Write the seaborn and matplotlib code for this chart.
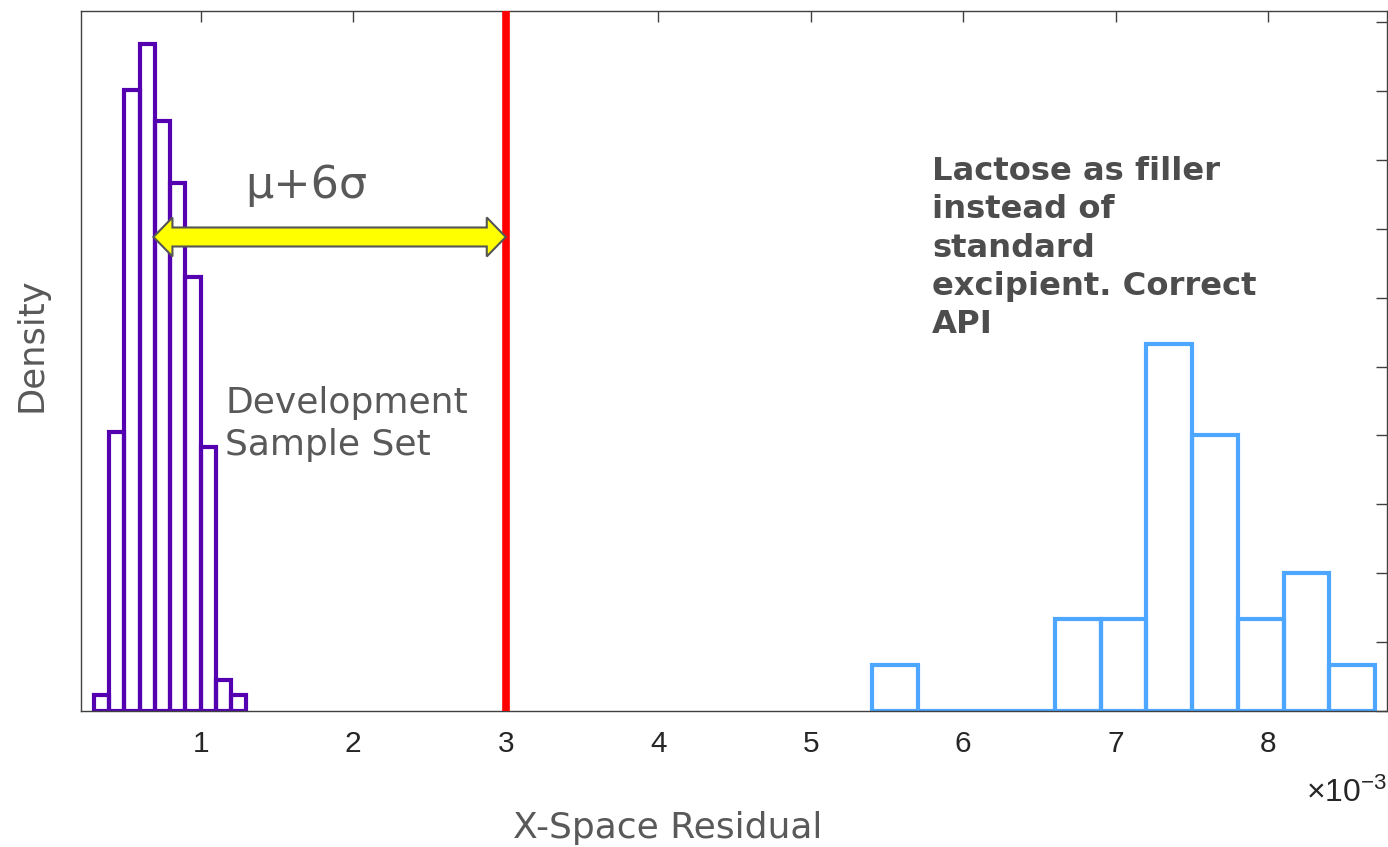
import numpy as np
import pandas as pd
import seaborn as sns
import matplotlib
matplotlib.use("Agg")
import matplotlib.pyplot as plt
from matplotlib.ticker import MultipleLocator, FuncFormatter
from matplotlib.patches import Polygon
from matplotlib.transforms import IdentityTransform

# ---------------- data ----------------
dev_edges = [0.0003, 0.0004, 0.0005, 0.0006, 0.0007, 0.0008, 0.0009, 0.0010, 0.0011, 0.0012, 0.0013]
dev_counts = [1, 18, 40, 43, 38, 34, 28, 17, 2, 1]

lac_edges = [0.0054, 0.0057, 0.0060, 0.0063, 0.0066, 0.0069, 0.0072, 0.0075, 0.0078, 0.0081, 0.0084, 0.0087]
lac_counts = [1, 0, 0, 0, 2, 2, 8, 6, 2, 3, 1]

mu_value = 0.00069          # mean of development set (arrow start)
limit_value = 0.0030        # mu + 6 sigma threshold
x_ticks = [0.001, 0.002, 0.003, 0.004, 0.005, 0.006, 0.007, 0.008]

# ---------------- style ----------------
sns.set_style("white")
plt.rcParams["font.family"] = ["DejaVu Sans"]
plt.rcParams["mathtext.fontset"] = "custom"
plt.rcParams["mathtext.rm"] = "Liberation Sans"

W, H = 1388, 847
fig = plt.figure(figsize=(W / 100, H / 100), dpi=100)
ax = fig.add_axes([81 / W, (H - 711) / H, (1387 - 81) / W, 700 / H])

def centers(edges):
    e = np.asarray(edges)
    return (e[:-1] + e[1:]) / 2

dev_df = pd.DataFrame({"residual": centers(dev_edges), "count": dev_counts})
lac_df = pd.DataFrame({"residual": centers(lac_edges), "count": lac_counts})

sns.histplot(data=dev_df, x="residual", weights="count", bins=dev_edges, stat="density",
             element="bars", fill=False, color="#5500B0", linewidth=3, ax=ax)
sns.histplot(data=lac_df, x="residual", weights="count", bins=lac_edges, stat="density",
             element="bars", fill=False, color="#4DA6FF", linewidth=3, ax=ax)

ax.axvline(limit_value, color="#FF0000", linewidth=5.5, zorder=4)

ax.set_xlim(0.000215, 0.008778)
ax.set_ylim(0, 2032)

ax.xaxis.set_major_locator(plt.FixedLocator(x_ticks))
ax.xaxis.set_major_formatter(FuncFormatter(lambda v, p: f"{v * 1e3:g}"))
ax.yaxis.set_major_locator(MultipleLocator(200))
ax.tick_params(axis="both", direction="in", length=8, width=1, colors="#404040",
               top=True, right=True, labelcolor="#262626", labelsize=21.5, pad=14)
ax.tick_params(axis="y", labelleft=False)
for lab in ax.get_xticklabels():
    lab.set_fontfamily("Liberation Sans")
for s in ax.spines.values():
    s.set_color("#404040")
    s.set_linewidth(1)
    s.set_visible(True)

ax.set_xlabel("X-Space Residual", fontsize=26, color="#595959")
ax.xaxis.label.set_va("baseline")
ax.xaxis.set_label_coords(0.4495, -0.1814)
ax.set_ylabel("Density", fontsize=25.5, color="#595959")
ax.yaxis.label.set_va("baseline")
ax.yaxis.set_label_coords(-0.0299, 0.523)

ax.text(1.0, -0.13, r"$\mathregular{\times10^{-3}}$", transform=ax.transAxes,
        ha="right", va="baseline", fontsize=23, color="#262626", fontfamily="Liberation Sans")

# annotations (va='baseline' anchors the last line's baseline)
ax.text(0.001290, 1489, "μ+6σ", fontsize=32, color="#595959", ha="left", va="baseline")
ax.text(0.001160, 743, "Development\nSample Set", fontsize=26, color="#595959",
        ha="left", va="baseline", linespacing=1.3)
ax.text(0.005795, 1097, "Lactose as filler\ninstead of\nstandard\nexcipient. Correct\nAPI",
        fontsize=23.2, fontweight="bold", color="#4D4D4D", ha="left", va="baseline",
        linespacing=1.3)

# double-headed arrow mu -> limit
arrow_y = 1376
x0, y0 = ax.transData.transform((mu_value, arrow_y))
x1, _ = ax.transData.transform((limit_value, arrow_y))
hl, hh, hs = 19, 19.5, 9.5
verts = [(x0, y0), (x0 + hl, y0 + hh), (x0 + hl, y0 + hs), (x1 - hl, y0 + hs), (x1 - hl, y0 + hh),
         (x1, y0), (x1 - hl, y0 - hh), (x1 - hl, y0 - hs), (x0 + hl, y0 - hs), (x0 + hl, y0 - hh)]
fig.add_artist(Polygon(verts, closed=True, transform=IdentityTransform(),
                       facecolor="#FFFF00", edgecolor="#555555", linewidth=1.5, zorder=6))

fig.savefig("out.png", dpi=100)
